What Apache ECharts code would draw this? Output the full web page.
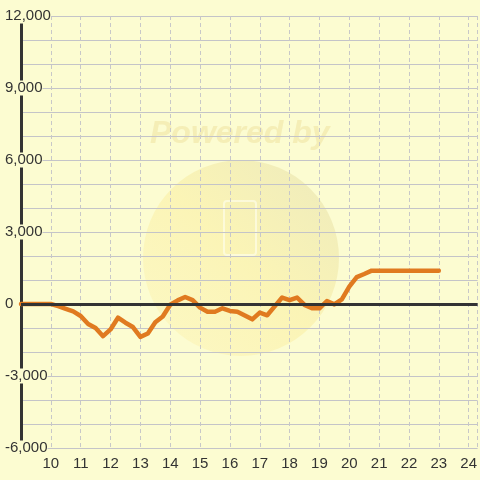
<!DOCTYPE html>
<html>
<head>
<meta charset="utf-8">
<script src="https://cdn.jsdelivr.net/npm/echarts@6/dist/echarts.min.js"></script>
<style>html,body{margin:0;padding:0;background:#fcfcd1;}#c{width:480px;height:480px;}</style>
</head>
<body>
<div id="c"></div>
<script>
const xValues = [9, 10, 10.25, 10.5, 10.75, 11, 11.25, 11.5, 11.75, 12, 12.25, 12.5, 12.75, 13, 13.25, 13.5, 13.75, 14, 14.25, 14.5, 14.75, 15, 15.25, 15.5, 15.75, 16, 16.25, 16.5, 16.75, 17, 17.25, 17.5, 17.75, 18, 18.25, 18.5, 18.75, 19, 19.25, 19.5, 19.75, 20, 20.25, 20.5, 20.75, 23];
const yValues = [0, 0, -90, -200, -310, -500, -830, -1000, -1340, -1060, -570, -780, -960, -1370, -1230, -760, -520, -30, 150, 290, 160, -150, -320, -320, -180, -290, -320, -475, -640, -360, -470, -100, 270, 160, 270, -40, -180, -180, 125, -15, 195, 720, 1120, 1250, 1390, 1390];
const zeroLine = [0];
const bg = '#fcfcd1';

const chart = echarts.init(document.getElementById('c'), null, {renderer: 'canvas'});
chart.setOption({
  backgroundColor: bg,
  animation: false,
  graphic: [
    {type: 'circle', z: -10, shape: {cx: 241, cy: 258, r: 98},
     style: {fill: new echarts.graphic.LinearGradient(1, 0, 0, 1, [
        {offset: 0, color: 'rgba(225,220,170,0.55)'},
        {offset: 0.5, color: 'rgba(250,238,160,0.55)'},
        {offset: 1, color: 'rgba(252,240,170,0.35)'}])}},
    {type: 'rect', z: -9, shape: {x: 224, y: 201, width: 32, height: 54, r: 3},
     style: {fill: 'none', stroke: 'rgba(255,255,240,0.6)', lineWidth: 2}},
    {type: 'text', z: -9, left: 150, top: 118,
     style: {text: 'Powered by', font: 'italic bold 32px "Liberation Sans", Arial, sans-serif', fill: 'rgba(238,225,160,0.55)'}}
  ],
  grid: {left: 21, right: 0, top: 16, bottom: 32, containLabel: false},
  xAxis: {
    type: 'value', min: 9, max: 24.3, interval: 1,
    axisLine: {show: false}, axisTick: {show: false},
    axisLabel: {
      fontSize: 15, color: '#333', margin: 8, fontFamily: '"Liberation Sans", Arial, sans-serif',
      showMinLabel: false, showMaxLabel: false,
      formatter: v => (Number.isInteger(v) && v >= 10) ? String(v) : ''
    },
    splitLine: {show: true, showMinLine: false, lineStyle: {color: '#c8c8c8', type: [4, 3], width: 1}}
  },
  yAxis: {
    type: 'value', min: -6000, max: 12000, interval: 3000,
    axisLine: {show: true, lineStyle: {color: '#333', width: 3}},
    axisTick: {show: false},
    minorTick: {show: false, splitNumber: 3},
    minorSplitLine: {show: true, lineStyle: {color: '#c4c4c8', width: 1}},
    splitLine: {show: true, lineStyle: {color: '#c4c4c8', width: 1}},
    axisLabel: {
      fontSize: 15, color: '#333', align: 'left', margin: 16,
      fontFamily: '"Liberation Sans", Arial, sans-serif',
      backgroundColor: bg,
      formatter: v => v.toLocaleString('en-US')
    }
  },
  series: [
    {type: 'line', data: [], z: 1, silent: true,
     markLine: {silent: true, symbol: 'none', label: {show: false},
       lineStyle: {color: '#333', width: 3, type: 'solid'},
       data: zeroLine.map(v => ({yAxis: v}))}},
    {type: 'line', z: 3, showSymbol: false, symbol: 'none',
     data: xValues.map((x, i) => [x, yValues[i]]),
     lineStyle: {color: '#e07a20', width: 4.5, join: 'round', cap: 'round'}}
  ]
});
</script>
</body>
</html>
